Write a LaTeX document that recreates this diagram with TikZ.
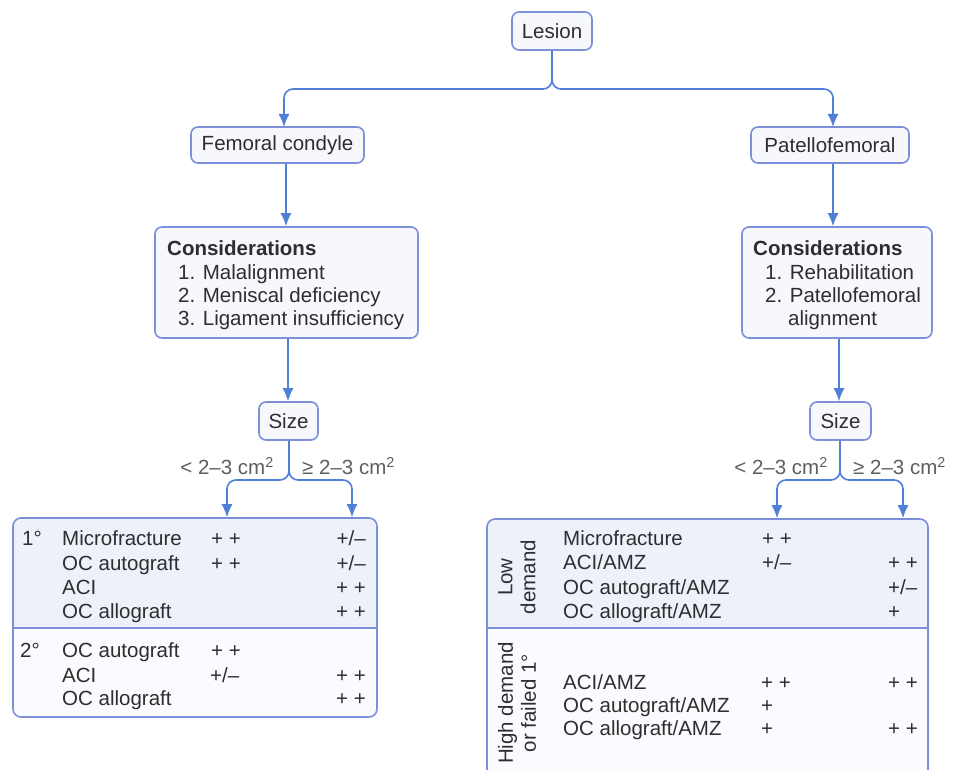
\documentclass[tikz,border=0pt]{standalone}
\usepackage{fontspec}
\setmainfont{Liberation Sans}
\usetikzlibrary{arrows.meta}
\definecolor{ln}{HTML}{4F7FD6}
\definecolor{bx}{HTML}{7C8FD8}
\definecolor{tc}{HTML}{2E2E2E}
\definecolor{lc}{HTML}{5E5E5E}
\definecolor{topf}{HTML}{ECF1FA}
\definecolor{botf}{HTML}{FAFBFE}
\definecolor{boxf}{HTML}{F6F8FD}
\tikzset{
  rbox/.style={draw=bx, line width=1.6pt, rounded corners=7pt, fill=boxf, inner sep=0pt, text=tc},
  tbox/.style={draw=bx, line width=1.6pt, rounded corners=8pt, inner sep=0pt},
  conn/.style={draw=ln, line width=1.6pt, rounded corners=9pt},
  arr/.style={conn, -{Latex[length=13pt,width=11pt]}},
  txt/.style={anchor=base west, text=tc, inner sep=0pt},
  txr/.style={anchor=base east, text=tc, inner sep=0pt},
  lbl/.style={text=lc, inner sep=0pt},
}
\begin{document}
\begin{tikzpicture}[x=1pt,y=-1pt]
\fontsize{20.5}{23.5}\selectfont
\useasboundingbox (0,0) rectangle (968,770);
\fill[white] (0,0) rectangle (968,770);

% top boxes
\node[rbox, minimum width=80pt, minimum height=38pt] (lesion) at (552,31) {Lesion};
\node[rbox, minimum width=173pt, minimum height=36pt] (fc) at (277.5,145) {Femoral condyle};
\node[rbox, minimum width=158pt, minimum height=36pt] (pf) at (830,145) {Patellofemoral};

% considerations boxes
\node[rbox, minimum width=263pt, minimum height=111pt] (cl) at (286.5,282.5) {};
\node[txt, font=\bfseries] (clh) at (167,255.5) {Considerations};
\node[txt] (cl1) at (178,279.5) {1. Malalignment};
\node[txt] (cl2) at (178,302.5) {2. Meniscal deficiency};
\node[txt] (cl3) at (178,325.5) {3. Ligament insufficiency};

\node[rbox, minimum width=190pt, minimum height=111pt] (cr) at (837,282.5) {};
\node[txt, font=\bfseries] (crh) at (753,255.5) {Considerations};
\node[txt] (cr1) at (765,279.5) {1. Rehabilitation};
\node[txt] (cr2) at (765,302.5) {2. Patellofemoral};
\node[txt] (cr3) at (788,325.5) {alignment};

% size boxes
\node[rbox, minimum width=59pt, minimum height=38pt] (sl) at (288.5,421) {Size};
\node[rbox, minimum width=61pt, minimum height=38pt] (sr) at (840.5,421) {Size};

% size labels
\node[lbl, anchor=east] (sll) at (274,466) {< 2–3 cm\textsuperscript{2}};
\node[lbl, anchor=west] (slr) at (302,466) {≥ 2–3 cm\textsuperscript{2}};
\node[lbl, anchor=east] (srl) at (828,466) {< 2–3 cm\textsuperscript{2}};
\node[lbl, anchor=west] (srr) at (853,466) {≥ 2–3 cm\textsuperscript{2}};

% left table
\begin{scope}
\clip[rounded corners=8pt] (13,518) rectangle (377,717);
\fill[topf] (13,518) rectangle (377,628);
\fill[botf] (13,628) rectangle (377,717);
\end{scope}
\node[tbox, minimum width=364pt, minimum height=199pt] (tl) at (195,617.5) {};
\draw[bx, line width=1.6pt] (13,628) -- (377,628);
\node[txt] at (22,545.5) {1°};
\node[txt] at (62,545.5) {Microfracture};
\node[txt] at (62,570) {OC autograft};
\node[txt] at (62,594) {ACI};
\node[txt] at (62,618) {OC allograft};
\node[txt] at (211,545.5) {+ +};
\node[txt] at (211,570) {+ +};
\node[txr] at (366,545.5) {+/–};
\node[txr] at (366,570) {+/–};
\node[txr] at (366,594) {+ +};
\node[txr] at (366,618) {+ +};
\node[txt] at (20,657.5) {2°};
\node[txt] at (62,657.5) {OC autograft};
\node[txt] at (62,682) {ACI};
\node[txt] at (62,705.5) {OC allograft};
\node[txt] at (211,657.5) {+ +};
\node[txt] at (210,682) {+/–};
\node[txr] at (366,682) {+ +};
\node[txr] at (366,705.5) {+ +};

% right table
\begin{scope}
\clip[rounded corners=8pt] (487,519) rectangle (928,785);
\fill[topf] (487,519) rectangle (928,628);
\fill[botf] (487,628) rectangle (928,785);
\end{scope}
\node[tbox, minimum width=441pt, minimum height=266pt] (tr) at (707.5,652) {};
\draw[bx, line width=1.6pt] (487,628) -- (928,628);
\node[rotate=90, align=center, text=tc, inner sep=0pt, font=\fontsize{20.5}{23}\selectfont] (low) at (517,577) {Low\\demand};
\node[rotate=90, align=center, text=tc, inner sep=0pt, font=\fontsize{20.5}{23}\selectfont] (high) at (517,703) {High demand\\or failed 1°};
\node[txt] at (563,545.5) {Microfracture};
\node[txt] at (563,569.5) {ACI/AMZ};
\node[txt] at (563,594.5) {OC autograft/AMZ};
\node[txt] at (563,618.5) {OC allograft/AMZ};
\node[txt] at (762,545.5) {+ +};
\node[txt] at (762,569.5) {+/–};
\node[txt] at (888,569.5) {+ +};
\node[txt] at (888,594.5) {+/–};
\node[txt] at (888,618.5) {+};
\node[txt] at (563,689.5) {ACI/AMZ};
\node[txt] at (563,712.5) {OC autograft/AMZ};
\node[txt] at (563,735.5) {OC allograft/AMZ};
\node[txt] at (761,689.5) {+ +};
\node[txt] at (761,712.5) {+};
\node[txt] at (761,735.5) {+};
\node[txt] at (888,689.5) {+ +};
\node[txt] at (888,735.5) {+ +};

% connectors
\draw[arr] (lesion.south) -- (552,89) -- (284,89) -- (284,127);
\draw[arr] (lesion.south) -- (552,89) -- (833,89) -- (833,127);
\draw[arr] (fc.south -| 286,0) -- (cl.north -| 286,0);
\draw[arr] (pf.south -| 833,0) -- (cr.north -| 833,0);
\draw[arr] (cl.south -| 288,0) -- (sl.north -| 288,0);
\draw[arr] (cr.south -| 839,0) -- (sr.north -| 839,0);
\draw[arr] (sl.south -| 289,0) -- (289,480) -- (227,480) -- (tl.north -| 227,0);
\draw[arr] (sl.south -| 289,0) -- (289,480) -- (352,480) -- (tl.north -| 352,0);
\draw[arr] (sr.south -| 840,0) -- (840,480) -- (777,480) -- (tr.north -| 777,0);
\draw[arr] (sr.south -| 840,0) -- (840,480) -- (903,480) -- (tr.north -| 903,0);
\end{tikzpicture}
\end{document}
